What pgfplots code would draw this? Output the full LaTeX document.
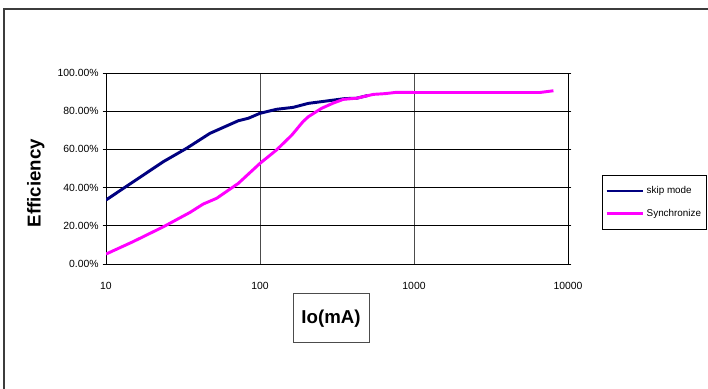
\documentclass[border=0pt]{standalone}
\usepackage{pgfplots}
\pgfplotsset{compat=1.18}
\usepackage{fontspec}
\setmainfont{Liberation Sans}
\definecolor{navy}{RGB}{0,0,128}
\definecolor{mag}{RGB}{255,0,255}
\definecolor{frame}{RGB}{60,60,60}
\begin{document}
\begin{tikzpicture}
\path[use as bounding box] (0pt,0pt) rectangle (531pt,291.75pt);
\draw[frame, line width=1.2pt] (3pt,-5pt) -- (3pt,285pt) -- (536pt,285pt);
\begin{axis}[
  at={(79.5pt,93.75pt)}, anchor=south west,
  scale only axis, width=346.5pt, height=143.25pt,
  xmode=log, xmin=10, xmax=10000, ymin=0, ymax=100,
  xtick={10,100,1000,10000}, xticklabels={10,100,1000,10000},
  ytick={0,20,40,60,80,100},
  yticklabels={0.00\%,20.00\%,40.00\%,60.00\%,80.00\%,100.00\%},
  minor xtick={}, 
  xmajorgrids, ymajorgrids,
  x grid style={black!70, line width=0.6pt},
  y grid style={black, line width=0.6pt},
  axis line style={black, line width=0.7pt},
  tick align=outside,
  xtick style={draw=none},
  ytick style={black, line width=0.6pt},
  major tick length=2.5pt,
  ticklabel style={font=\fontsize{7.8}{9}\selectfont},
  xticklabel style={anchor=center, yshift=-14pt},
  yticklabel style={xshift=0.5pt},
  xlabel={\textbf{Io(mA)}},
  xlabel style={at={(axis description cs:0.487,-0.285)}, anchor=center,
    draw=black!70, line width=0.7pt, minimum width=57pt, minimum height=36.75pt,
    font=\fontsize{14}{16}\selectfont, inner sep=0pt},
  ylabel={\textbf{Efficiency}},
  ylabel style={at={(axis description cs:-0.152,0.424)}, anchor=center,
    font=\fontsize{14}{16}\selectfont},
  legend style={at={(axis description cs:1.0736,0.466)}, anchor=north west,
    draw=black, line width=0.7pt, font=\fontsize{7.4}{8}\selectfont,
    row sep=6pt, inner xsep=2pt, inner ysep=6.25pt},
  legend cell align=left,
  legend image code/.code={\draw[#1, line width=2.2pt] (0pt,0pt) -- (27pt,0pt);},
]
\addplot[navy, line width=2.2pt, line join=round] coordinates {
(10,33.5)(15,43)(23.6,53.6)(33.4,60.6)(47.3,68.4)(72.3,75)(84,76.3)(100,78.9)
(128,81)(164,82)(206,84.1)(251,85)(356,86.6)(424,86.8)(500,88.2)
};
\addlegendentry{skip mode}
\addplot[mag, line width=2.2pt, line join=round] coordinates {
(10,5.2)(15,11.7)(23.6,19.5)(35.1,27)(42.8,31.4)(52.3,34.4)(72.3,42.2)(100,52.7)
(128,59.7)(161,67.5)(190,74.5)(206,77.1)(251,81.5)(300,84.3)(348,86.2)(424,86.8)(544,88.8)
(650,89.2)(772,89.9)(1000,89.8)(6580,89.8)(8040,90.7)
};
\addlegendentry{Synchronize}
\end{axis}
\end{tikzpicture}
\end{document}
